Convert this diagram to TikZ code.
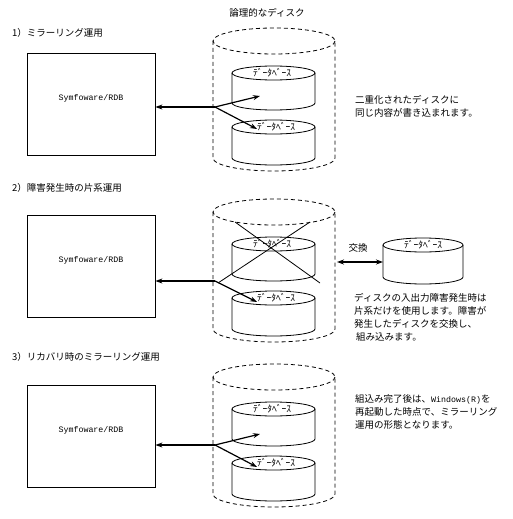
\documentclass[tikz,border=0pt]{standalone}
\usepackage{fontspec}
\newfontfamily\jpfont{Noto Sans CJK JP}
\newfontfamily\monofont{Liberation Mono}
\usetikzlibrary{arrows.meta}

% cylinder: #1 style, #2 centre x, #3 top centre y, #4 x radius, #5 y radius, #6 height
\newcommand{\dbcyl}[6]{%
  \draw[#1] (#2-#4,#3) -- (#2-#4,#3+#6) arc[start angle=180,end angle=0,x radius=#4,y radius=#5] -- (#2+#4,#3);
  \draw[#1] (#2,#3) ellipse[x radius=#4,y radius=#5];
}

\tikzset{
  sysbox/.style={draw, line width=0.8pt, minimum width=128pt, minimum height=102pt, inner sep=0pt},
  disk/.style={line width=0.8pt},
  logdisk/.style={line width=0.8pt, dash pattern=on 4pt off 3pt},
  link/.style={line width=1.2pt, -{Stealth[length=7pt,width=5pt]}},
  jptext/.style={font=\jpfont\fontsize{9.5}{13}\selectfont, inner sep=0pt, align=left},
  dblabel/.style={font=\jpfont\fontsize{9.5}{10}\selectfont, inner sep=0pt},
  rdblabel/.style={font=\monofont\fontsize{8.3}{10}\selectfont, inner sep=0pt},
}

\begin{document}
\begin{tikzpicture}[x=1pt,y=-1pt]
\useasboundingbox (0,0) rectangle (512,519);

\node[jptext] (logical) at (267,13) {論理的なディスク};

%% 1) mirroring
\node[jptext, anchor=west] (title1) at (12,33) {1）ミラーリング運用};
\node[sysbox, label={[rdblabel, yshift=6pt]center:Symfoware/RDB}] (rdb1) at (91,104) {};
\dbcyl{logdisk}{274}{41}{61}{13}{117}
\dbcyl{disk}{273.5}{73}{41.5}{7}{30}
\dbcyl{disk}{273.5}{127}{41.5}{7}{31}
\node[dblabel] (db1a) at (272,73) {ﾃﾞｰﾀﾍﾞｰｽ};
\node[dblabel] (db1b) at (276,127) {ﾃﾞｰﾀﾍﾞｰｽ};
\coordinate (fork1) at (215,107);
\coordinate (up1) at (260,96);
\coordinate (low1) at (257,129);
\draw[link] (fork1) -- (rdb1.east |- fork1);
\draw[link] (fork1) -- (up1);
\draw[link] (fork1) -- (low1);
\node[jptext, anchor=west] (note1) at (355,106.5) {二重化されたディスクに\\同じ内容が書き込まれます。};

%% 2) single side
\node[jptext, anchor=west] (title2) at (12,188) {2）障害発生時の片系運用};
\node[sysbox, label={[rdblabel, yshift=6pt]center:Symfoware/RDB}] (rdb2) at (91,266) {};
\dbcyl{logdisk}{274}{212}{61}{13}{117}
\dbcyl{disk}{273.5}{244}{41.5}{7}{30}
\dbcyl{disk}{273.5}{298}{41.5}{7}{31}
\node[dblabel] (db2a) at (272,244) {ﾃﾞｰﾀﾍﾞｰｽ};
\node[dblabel] (db2b) at (276,298) {ﾃﾞｰﾀﾍﾞｰｽ};
\draw[disk] (235,222) -- (320,283);
\draw[disk] (310,222) -- (218,283);
\coordinate (fork2) at (215,281);
\coordinate (low2) at (257,302);
\draw[link] (fork2) -- (rdb2.east |- fork2);
\draw[link] (fork2) -- (low2);
\dbcyl{disk}{423}{245}{40}{7}{32}
\node[dblabel] (spare) at (423,245) {ﾃﾞｰﾀﾍﾞｰｽ};
\coordinate (swapL) at (337,262);
\coordinate (swapR) at (383,262);
\draw[link, {Stealth[length=7pt,width=5pt]}-{Stealth[length=7pt,width=5pt]}] (swapL) -- (swapR);
\node[jptext] (swap) at (358,248) {交換};
\node[jptext, anchor=west] (note2) at (354,317) {ディスクの入出力障害発生時は\\片系だけを使用します。障害が\\発生したディスクを交換し、\\\hspace{2pt}組み込みます。};

%% 3) recovery
\node[jptext, anchor=west] (title3) at (12,357) {3）リカバリ時のミラーリング運用};
\node[sysbox, label={[rdblabel, yshift=6pt]center:Symfoware/RDB}] (rdb3) at (91,436) {};
\dbcyl{logdisk}{274}{377}{61}{13}{117}
\dbcyl{disk}{273.5}{409}{41.5}{7}{30}
\dbcyl{disk}{273.5}{463}{41.5}{7}{31}
\node[dblabel] (db3a) at (272,409) {ﾃﾞｰﾀﾍﾞｰｽ};
\node[dblabel] (db3b) at (276,463) {ﾃﾞｰﾀﾍﾞｰｽ};
\coordinate (fork3) at (215,445);
\coordinate (up3) at (260,434);
\coordinate (low3) at (257,467);
\draw[link] (fork3) -- (rdb3.east |- fork3);
\draw[link] (fork3) -- (up3);
\draw[link] (fork3) -- (low3);
\node[jptext, anchor=west] (note3) at (355,412) {組込み完了後は、{\monofont\fontsize{8.3}{13}\selectfont Windows(R)}を\\再起動した時点で、ミラーリング\\運用の形態となります。};
\end{tikzpicture}
\end{document}
